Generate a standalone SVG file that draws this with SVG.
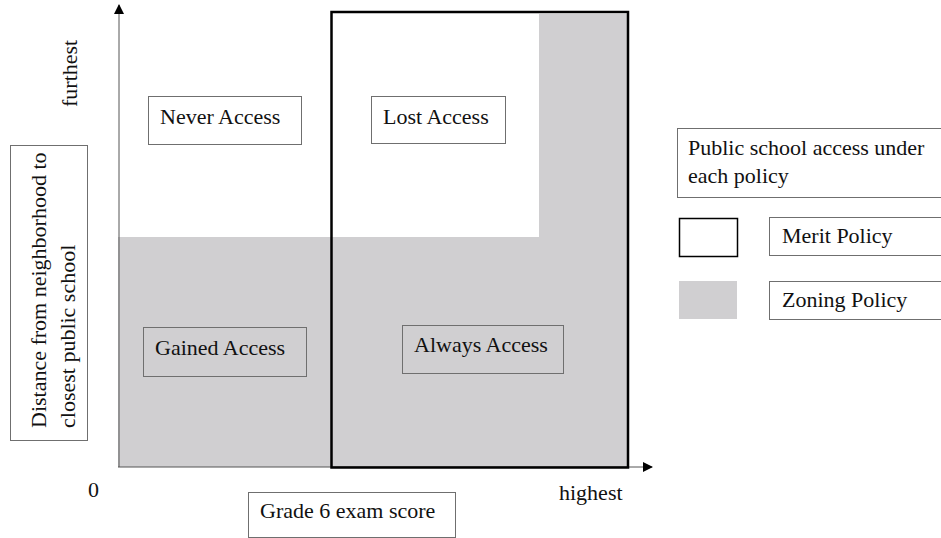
<svg xmlns="http://www.w3.org/2000/svg" width="941" height="538" viewBox="0 0 941 538">
<style>
text{font-family:"Liberation Serif","Times New Roman",serif;font-size:22px;fill:#111}
.box{fill:#fff;stroke:#6f6f6f;stroke-width:1}
.gbox{fill:none;stroke:#6f6f6f;stroke-width:1}
.axis{stroke:#555;stroke-width:1;fill:none}
</style>
<defs>
<marker id="ah" viewBox="0 0 10 10" refX="9" refY="5" markerWidth="10" markerHeight="10" markerUnits="userSpaceOnUse" orient="auto">
<path d="M0,0 L10,5 L0,10 Z" fill="#000"/>
</marker>
</defs>
<rect width="941" height="538" fill="#fff"/>
<g id="zoning-area">
<path d="M118,237 L539,237 L539,14 L628,14 L628,467 L118,467 Z" fill="#d0cfd1"/>
</g>
<g id="connectors">
<line class="axis" x1="119" y1="467" x2="119" y2="5" marker-end="url(#ah)"/>
<line class="axis" x1="118" y1="467" x2="652" y2="467" marker-end="url(#ah)"/>
</g>
<g id="merit-area">
<rect x="331.5" y="12" width="296.5" height="455.5" fill="none" stroke="#000" stroke-width="2.5"/>
</g>
<g id="never-access">
<rect class="box" x="148.5" y="96.5" width="153" height="48"/>
<text x="160" y="124">Never Access</text>
</g>
<g id="lost-access">
<rect class="box" x="371.5" y="96.5" width="134" height="47"/>
<text x="383" y="124">Lost Access</text>
</g>
<g id="gained-access">
<rect class="gbox" x="143.5" y="327.5" width="163" height="49"/>
<text x="155" y="355">Gained Access</text>
</g>
<g id="always-access">
<rect class="gbox" x="402.5" y="325.5" width="161" height="48"/>
<text x="414" y="352">Always Access</text>
</g>
<g id="y-label">
<rect class="box" x="10.5" y="145.5" width="77" height="295"/>
<text transform="translate(46,428) rotate(-90)">Distance from neighborhood to</text>
<text transform="translate(75,428) rotate(-90)">closest public school</text>
</g>
<g id="furthest">
<text transform="translate(77,107) rotate(-90)">furthest</text>
</g>
<g id="zero">
<text x="88" y="497">0</text>
</g>
<g id="highest">
<text x="559" y="500">highest</text>
</g>
<g id="x-label">
<rect class="box" x="248.5" y="492.5" width="207" height="45"/>
<text x="260" y="518">Grade 6 exam score</text>
</g>
<g id="legend-title">
<rect class="box" x="677.5" y="128.5" width="270" height="69"/>
<text x="688" y="155">Public school access under</text>
<text x="688" y="183">each policy</text>
</g>
<g id="legend-merit">
<rect x="679.5" y="218.5" width="58" height="38" fill="#fff" stroke="#000" stroke-width="1.5"/>
<rect class="box" x="769.5" y="217.5" width="180" height="38"/>
<text x="782" y="243">Merit Policy</text>
</g>
<g id="legend-zoning">
<rect x="679" y="281" width="58" height="38" fill="#d0cfd1"/>
<rect class="box" x="769.5" y="281.5" width="180" height="38"/>
<text x="782" y="307">Zoning Policy</text>
</g>
</svg>
